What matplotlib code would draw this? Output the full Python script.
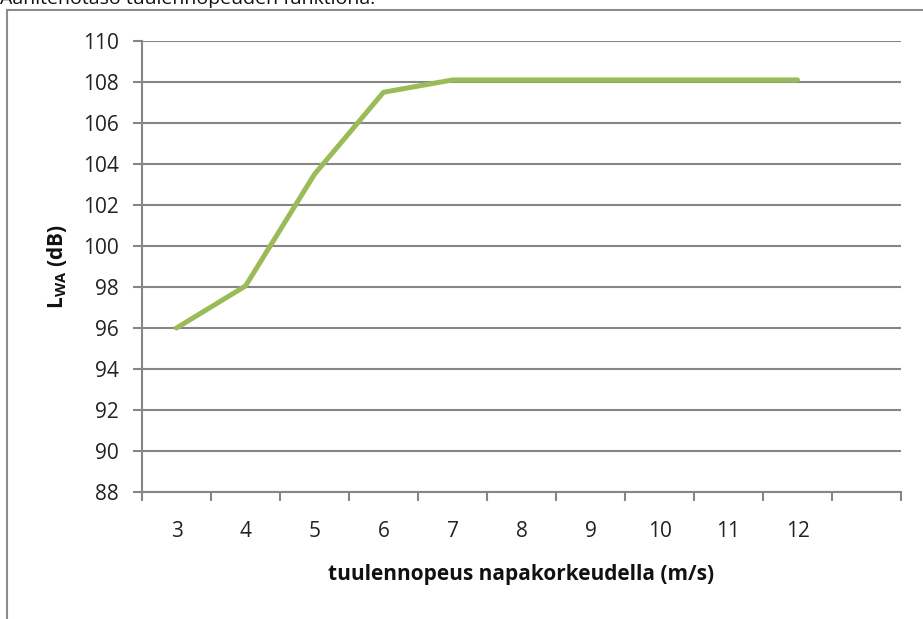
import matplotlib.pyplot as plt
from matplotlib.lines import Line2D

plt.rcParams['font.family'] = ['Open Sans', 'DejaVu Sans']
plt.rcParams['mathtext.fontset'] = 'custom'
plt.rcParams['mathtext.rm'] = 'Open Sans'
plt.rcParams['mathtext.bf'] = 'Open Sans:bold'

# wind speed categories (last slot left empty as in the original sheet)
categories = ['3', '4', '5', '6', '7', '8', '9', '10', '11', '12', '']
lwa = [96.0, 98.05, 103.5, 107.5, 108.1, 108.1, 108.1, 108.1, 108.1, 108.1]
yticks = list(range(88, 111, 2))

W, H = 923, 619
fig = plt.figure(figsize=(W / 100, H / 100), dpi=100)
ax = fig.add_axes([142 / W, (H - 492) / H, (901 - 142) / W, (492 - 41) / H])

grid_c = '#868686'
x = list(range(len(lwa)))
ax.plot(x, lwa, color='#9BBB59', lw=3.6, solid_capstyle='round', zorder=3)

ax.set_xlim(-0.5, len(categories) - 0.5)
ax.set_ylim(88, 110)
ax.set_yticks(yticks)
ax.set_yticklabels([str(v) for v in yticks])
ax.yaxis.grid(True, color=grid_c, lw=1.5)
ax.set_axisbelow(True)

# category labels centred, tick marks between categories
ax.set_xticks(range(len(categories)))
ax.set_xticklabels(categories)
ax.set_xticks([i - 0.5 for i in range(len(categories) + 1)], minor=True)
ax.tick_params(axis='x', which='major', length=0, pad=21, labelsize=15, colors='#222222')
ax.tick_params(axis='x', which='minor', length=6.5, width=1.5, color=grid_c, direction='out')
ax.tick_params(axis='y', length=6.5, width=1.5, color=grid_c, labelsize=15,
               labelcolor='#222222', pad=10)

for s in ['top', 'right']:
    ax.spines[s].set_visible(False)
for s in ['left', 'bottom']:
    ax.spines[s].set_color(grid_c)
    ax.spines[s].set_linewidth(1.5)

ax.set_xlabel('tuulennopeus napakorkeudella (m/s)', fontsize=15, fontweight='bold',
              labelpad=16, color='#111111')
ax.set_ylabel(r'$\mathbf{L_{WA}}$ (dB)', fontsize=15, fontweight='bold',
              labelpad=10, color='#111111')

# outer chart frame (runs off the right and bottom of the image)
fig.add_artist(Line2D([7 / W, 7 / W], [0, 1 - 10 / H], color='#8c8c8c', lw=1.5,
                      transform=fig.transFigure))
fig.add_artist(Line2D([7 / W, 1], [1 - 10 / H, 1 - 10 / H], color='#8c8c8c', lw=1.5,
                      transform=fig.transFigure))

fig.text(0 / W, 1 - 4 / H, 'Äänitehotaso tuulennopeuden funktiona:', fontsize=14,
         va='baseline', ha='left', color='#111111')

fig.savefig('out.png', dpi=100)
